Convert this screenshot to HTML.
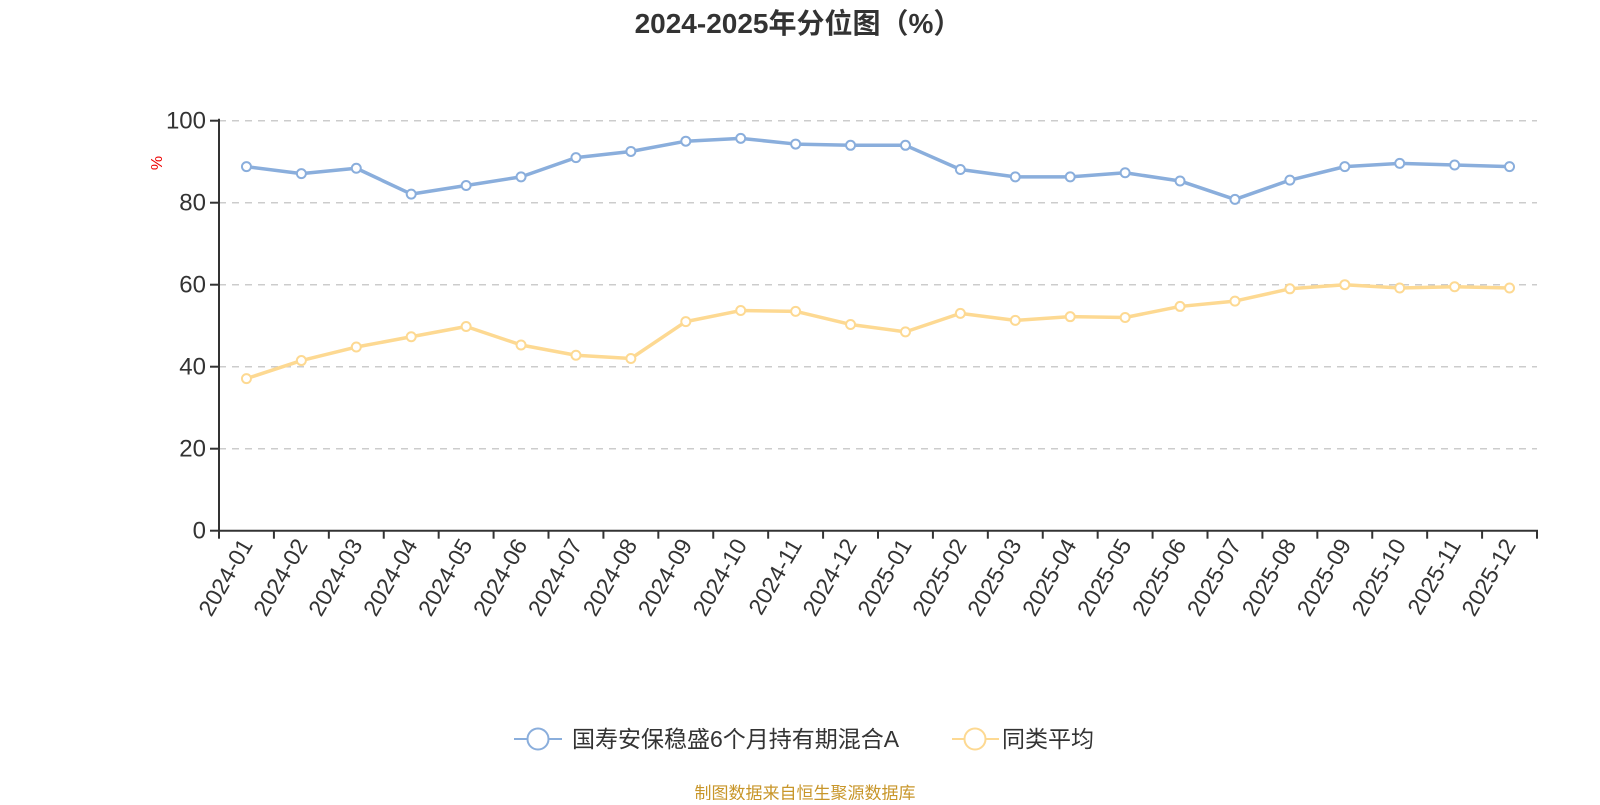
<!DOCTYPE html>
<html><head><meta charset="utf-8"><style>
body{margin:0;background:#fff;width:1600px;height:800px;overflow:hidden}
svg text{font-family:"Liberation Sans","Noto Sans CJK SC",sans-serif}
</style></head><body>
<svg width="1600" height="800" xmlns="http://www.w3.org/2000/svg" id="chart">
<text x="798" y="33" text-anchor="middle" font-size="28" font-weight="bold" fill="#333">2024-2025年分位图（%）</text>
<text x="0" y="0" transform="translate(162,163) rotate(-90)" text-anchor="middle" font-size="16" fill="#e00">%</text>
<g id="grid"></g><g id="axes"></g><g id="series"></g>
<g>
<g><line x1="514" y1="739" x2="562" y2="739" stroke="#8aaedc" stroke-width="2"/><circle cx="538" cy="739" r="10.5" fill="#fff" stroke="#8aaedc" stroke-width="2"/><text x="572" y="747" font-size="23" fill="#333">国寿安保稳盛6个月持有期混合A</text></g>
<g><line x1="952" y1="739" x2="999" y2="739" stroke="#fdd992" stroke-width="2"/><circle cx="975" cy="739" r="10.5" fill="#fff" stroke="#fdd992" stroke-width="2"/><text x="1002" y="747" font-size="23" fill="#333">同类平均</text></g>
</g>
<text x="805" y="799" text-anchor="middle" font-size="17" fill="#c8962a">制图数据来自恒生聚源数据库</text>
</svg>
<script>
const categories=["2024-01","2024-02","2024-03","2024-04","2024-05","2024-06","2024-07","2024-08","2024-09","2024-10","2024-11","2024-12","2025-01","2025-02","2025-03","2025-04","2025-05","2025-06","2025-07","2025-08","2025-09","2025-10","2025-11","2025-12"];
const fundValues=[88.8,87.1,88.4,82.1,84.2,86.3,91.0,92.5,95.0,95.7,94.3,94.0,94.0,88.1,86.3,86.3,87.3,85.3,80.8,85.5,88.8,89.6,89.2,88.8];
const avgValues=[37.1,41.5,44.8,47.3,49.8,45.3,42.8,42.0,51.0,53.7,53.5,50.3,48.5,53.0,51.3,52.2,52.0,54.7,56.0,59.0,60.0,59.2,59.5,59.2];
const yTicks=[0,20,40,60,80,100];
const NS="http://www.w3.org/2000/svg";
const L=219,R=1537,T=120.7,B=530.7;
const bw=(R-L)/categories.length;
const xS=i=>L+bw*(i+0.5);
const yS=v=>B-(v/100)*(B-T);
function mk(p,tag,a){const e=document.createElementNS(NS,tag);for(const k in a)e.setAttribute(k,a[k]);p.appendChild(e);return e;}
const grid=document.getElementById('grid'),axes=document.getElementById('axes'),ser=document.getElementById('series');
yTicks.forEach(t=>{
 if(t>0){const g=mk(grid,'line',{x1:L,x2:R,y1:yS(t),y2:yS(t),stroke:'#ccc','stroke-width':1.5,'stroke-dasharray':'7,6'});
 
 }
 mk(axes,'line',{x1:L-9,x2:L,y1:yS(t),y2:yS(t),stroke:'#333','stroke-width':2});
 const tx=mk(axes,'text',{x:L-13,y:yS(t)+8,'text-anchor':'end','font-size':24,fill:'#333'});tx.textContent=t;
 
 
});
mk(axes,'line',{x1:L,x2:L,y1:T-2,y2:B+1,stroke:'#333','stroke-width':2});
mk(axes,'line',{x1:L-1,x2:R+1,y1:B,y2:B,stroke:'#333','stroke-width':2});
for(let i=0;i<=categories.length;i++){mk(axes,'line',{x1:L+bw*i,x2:L+bw*i,y1:B,y2:B+8,stroke:'#333','stroke-width':2});}
categories.forEach((c,i)=>{
 const x=xS(i),y=B+14;
 const tx=mk(axes,'text',{x:0,y:0,transform:`translate(${x+7},${y}) rotate(-60)`,'text-anchor':'end','font-size':23,fill:'#333'});tx.textContent=c;
 
 
});
function line(vals,color,name){
 const g=mk(ser,'g',{});
 
 
 mk(g,'polyline',{points:vals.map((v,i)=>xS(i)+','+yS(v)).join(' '),fill:'none',stroke:color,'stroke-width':3.5,'stroke-linejoin':'round'});
 vals.forEach((v,i)=>{const c=mk(g,'circle',{cx:xS(i),cy:yS(v),r:4.5,fill:'#fff',stroke:color,'stroke-width':2});
 
 });
}
line(fundValues,'#8aaedc','fund-series');
line(avgValues,'#fdd992','average-series');
</script>
</body></html>
